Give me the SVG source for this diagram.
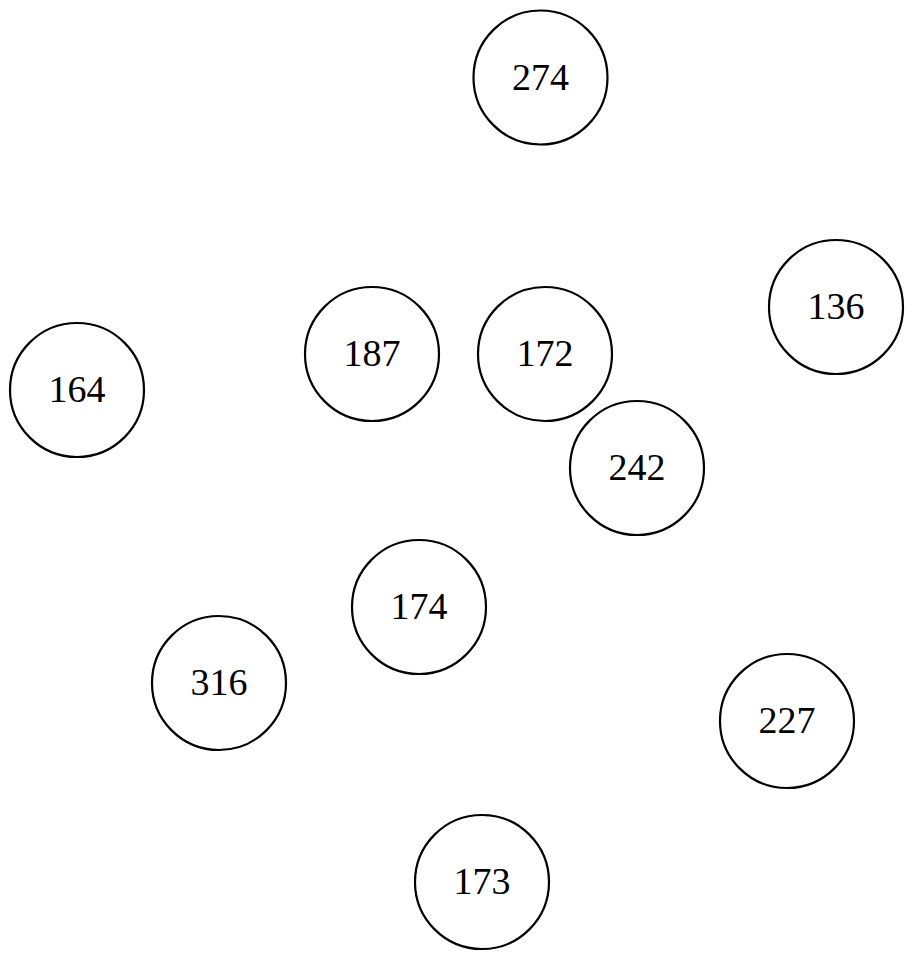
<svg xmlns="http://www.w3.org/2000/svg" width="914" height="960" viewBox="0 0 914 960">
<style>
.n circle{fill:#fff;stroke:#000;stroke-width:2.2}
.n text{font-family:"Liberation Serif","Times New Roman",serif;font-size:38px;text-anchor:middle;fill:#000}
</style>
<rect width="914" height="960" fill="#fff"/>
<g id="connectors"></g>
<g id="n274" class="n"><circle cx="540.5" cy="77.5" r="67"/><text x="540.5" y="89.5">274</text></g>
<g id="n136" class="n"><circle cx="836" cy="307" r="67"/><text x="836" y="319">136</text></g>
<g id="n187" class="n"><circle cx="372" cy="354" r="67"/><text x="372" y="366">187</text></g>
<g id="n172" class="n"><circle cx="545" cy="354" r="67"/><text x="545" y="366">172</text></g>
<g id="n164" class="n"><circle cx="77" cy="390" r="67"/><text x="77" y="402">164</text></g>
<g id="n242" class="n"><circle cx="637" cy="468" r="67"/><text x="637" y="480">242</text></g>
<g id="n174" class="n"><circle cx="419" cy="607" r="67"/><text x="419" y="619">174</text></g>
<g id="n316" class="n"><circle cx="219" cy="683" r="67"/><text x="219" y="695">316</text></g>
<g id="n227" class="n"><circle cx="787" cy="721" r="67"/><text x="787" y="733">227</text></g>
<g id="n173" class="n"><circle cx="482" cy="882" r="67"/><text x="482" y="894">173</text></g>
</svg>
